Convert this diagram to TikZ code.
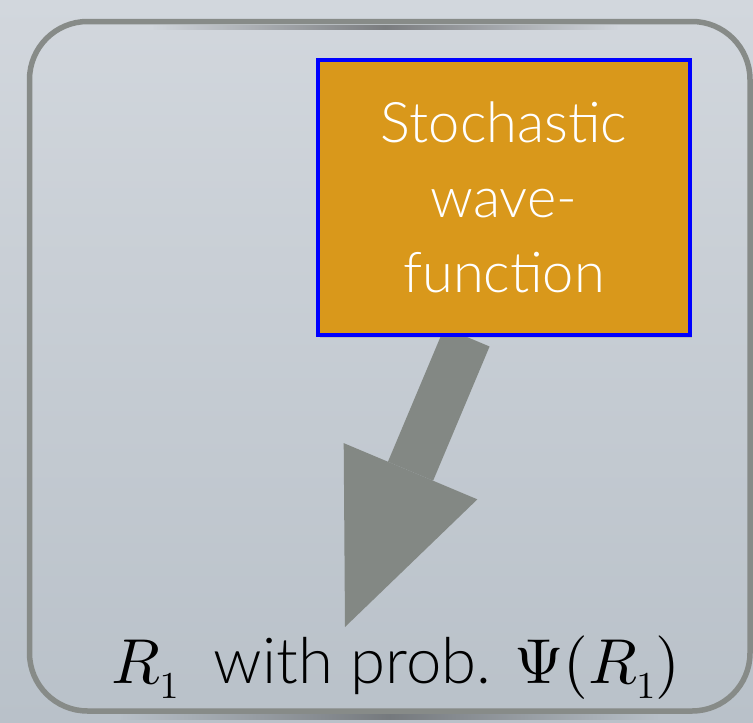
\documentclass[tikz,border=0pt]{standalone}
\usepackage{fontspec}
\setsansfont{Lato}[UprightFont=* Light]
\DeclareFontShape{OML}{cmm}{m}{it}{<->cmmi10}{}
\DeclareFontShape{OT1}{cmr}{m}{n}{<->cmr10}{}
\DeclareMathSizes{63.5}{63.5}{38}{30}
\usetikzlibrary{arrows.meta,shadows}
\definecolor{bgtop}{HTML}{D2D7DD}
\definecolor{bgbot}{HTML}{B9C1C9}
\definecolor{framegray}{HTML}{878B88}
\definecolor{boxorange}{HTML}{D9981B}
\definecolor{arrowgray}{HTML}{838884}
\pgfdeclarelayer{back}
\pgfdeclarelayer{mid}
\pgfsetlayers{back,mid,main}

\begin{document}
\begin{tikzpicture}[x=1pt, y=-1pt,
    wfbox/.style={draw=blue, line width=4pt, fill=boxorange, text=white, align=center,
      minimum width=372pt, minimum height=275pt, inner sep=0pt,
      font=\sffamily\fontsize{56}{75}\selectfont,
      drop shadow={opacity=0.25, shadow xshift=2pt, shadow yshift=-3pt}},
    restext/.style={text=black, inner sep=0pt, font=\sffamily\fontsize{63.5}{68}\selectfont},
    bigarrow/.style={draw=arrowgray, line width=49pt,
      -{Triangle[length=169pt, width=145pt, line width=0pt]}}
]
\useasboundingbox (0,0) rectangle (753,723);
\node[wfbox] (wf) at (504,197.5) {Stochastic\\wave-\\function};
\coordinate (hit) at (345,627);
\node[restext, anchor=base] (res) at (396,683) {$R_1$\ \ with prob. $\Psi(R_1)$};
\begin{pgfonlayer}{back}
  % backdrop and frame
  \fill[top color=bgtop, bottom color=bgbot] (0,0) rectangle (753,723);
  \shade[left color=bgtop, right color=bgtop, middle color=black!80, opacity=0.55] (150,25) rectangle (620,29);
  \shade[left color=bgbot, right color=bgbot, middle color=black!80, opacity=0.5] (120,714) rectangle (660,719);
  \draw[framegray, line width=5.5pt, rounded corners=58pt] (29.5,21.5) rectangle (750,711);
\end{pgfonlayer}
\begin{pgfonlayer}{mid}
  \draw[bigarrow] ([xshift=-37pt]wf.south) -- (hit);
\end{pgfonlayer}
\end{tikzpicture}
\end{document}
